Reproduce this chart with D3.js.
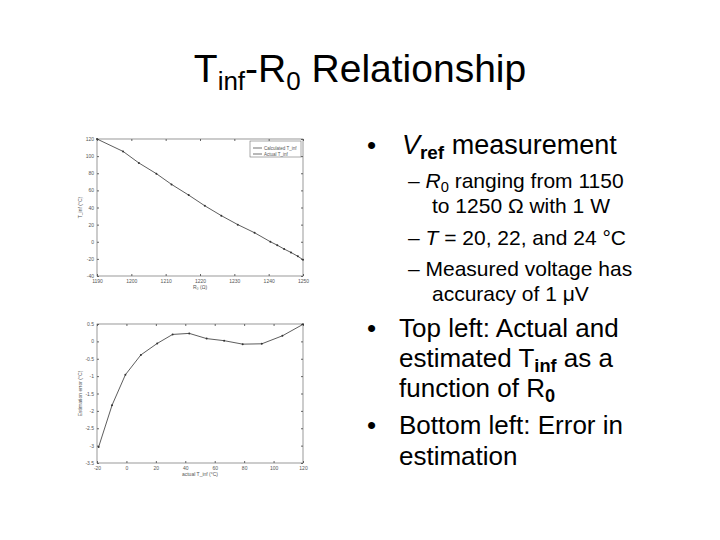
<!DOCTYPE html><html><head><meta charset="utf-8"><script src="https://cdn.jsdelivr.net/npm/d3@7"></script>
<style>body{margin:0;background:#fff}svg text{font-family:"Liberation Sans",Arial,sans-serif}</style></head><body><svg id="s" width="720" height="540"></svg>
<script>
const topR=[1190,1197.6,1202.2,1207.3,1211.7,1216.7,1221.4,1226.2,1231,1235.9,1240.5,1242.5,1244.5,1246.5,1248.5,1250];
const topT=[120,105.5,92,79.5,67,54.5,42,30.5,20,10.5,0,-4,-8.5,-12.5,-17,-21];
const topXTicks=[1190,1200,1210,1220,1230,1240,1250];
const topYTicks=[-40,-20,0,20,40,60,80,100,120];
const errT=[-18.9,-9.8,-0.7,9.8,20.9,31.4,42.7,54.5,66.4,79,92,106,120];
const errE=[-3.04,-1.84,-0.96,-0.39,-0.06,0.2,0.23,0.08,0.02,-0.08,-0.07,0.16,0.49];
const errXTicks=[-20,0,20,40,60,80,100,120];
const errYTicks=[0.5,0,-0.5,-1,-1.5,-2,-2.5,-3,-3.5];
const svg=d3.select("#s");
function panel(x0,x1,y0,y1,xd,yd,xt,yt,xs,ys,xl,yl){
  const x=d3.scaleLinear().domain(xd).range([x0,x1]),y=d3.scaleLinear().domain(yd).range([y1,y0]);
  const g=svg.append("g");
  const fx=d=>String(d),fy=d=>String(d);
  g.append("g").attr("transform",`translate(0,${y1})`).call(d3.axisBottom(x).tickValues(xt).tickSize(-2).tickPadding(3).tickFormat(fx)).call(a=>a.select(".domain").remove());
  g.append("g").attr("transform",`translate(${x0},0)`).call(d3.axisLeft(y).tickValues(yt).tickSize(-2).tickPadding(3).tickFormat(fy)).call(a=>a.select(".domain").remove());
  g.append("g").attr("transform",`translate(0,${y0})`).call(d3.axisTop(x).tickValues(xt).tickSize(-2).tickFormat("")).call(a=>a.select(".domain").remove());
  g.append("g").attr("transform",`translate(${x1},0)`).call(d3.axisRight(y).tickValues(yt).tickSize(-2).tickFormat("")).call(a=>a.select(".domain").remove());
  g.selectAll("g").attr("font-size",null).attr("font-family",null);
  g.selectAll("text").attr("fill","#555").attr("font-size",5);g.selectAll("line").attr("stroke","#666");
  g.append("rect").attr("x",x0).attr("y",y0).attr("width",x1-x0).attr("height",y1-y0).attr("fill","none").attr("stroke","#555").attr("stroke-width",0.6);
  const line=d3.line().x((d,i)=>x(xs[i])).y(d=>y(d));
  g.append("path").attr("d",line(ys)).attr("fill","none").attr("stroke","#333").attr("stroke-width",0.8);
  g.selectAll("circle").data(ys).join("circle").attr("cx",(d,i)=>x(xs[i])).attr("cy",d=>y(d)).attr("r",1).attr("fill","#333");
  g.append("text").attr("x",(x0+x1)/2).attr("y",y1+13).attr("text-anchor","middle").attr("fill","#555").attr("font-size",5).text(xl);
  g.append("text").attr("transform",`translate(${x0-15},${(y0+y1)/2}) rotate(-90)`).attr("text-anchor","middle").attr("fill","#555").attr("font-size",5).text(yl);
}
panel(97,303,139,276,[1190,1250],[-40,120],topXTicks,topYTicks,topR,topT,"R₀ (Ω)","T_inf (°C)");
const lg=svg.append("g");
lg.append("rect").attr("x",250).attr("y",141).attr("width",51).attr("height",16).attr("fill","#fff").attr("stroke","#555").attr("stroke-width",0.5);
[["Calculated T_inf",148],["Actual T_inf",154]].forEach(([t,yy])=>{lg.append("line").attr("x1",253).attr("x2",262).attr("y1",yy).attr("y2",yy).attr("stroke","#333").attr("stroke-width",0.7);
lg.append("text").attr("x",264).attr("y",yy+1.5).attr("font-size",4.5).attr("fill","#555").text(t);});
panel(97,303,324,463,[-20,120],[-3.5,0.5],errXTicks,errYTicks,errT,errE,"actual T_inf (°C)","Estimation error (°C)");
const t=svg.append("text").attr("x",360).attr("y",82).attr("text-anchor","middle").attr("font-size",39);
t.append("tspan").text("T");t.append("tspan").attr("font-size",26).attr("dy",8).text("inf");t.append("tspan").attr("dy",-8).text("-R");
t.append("tspan").attr("font-size",26).attr("dy",8).text("0");t.append("tspan").attr("dy",-8).text(" Relationship");
function txt(x,y,size,parts){const e=svg.append("text").attr("x",x).attr("y",y).attr("font-size",size);
 parts.forEach(p=>{const s=e.append("tspan").text(p.t);if(p.i)s.attr("font-style","italic");if(p.b)s.attr("font-weight","bold");if(p.sub){s.attr("font-size",size*0.7).attr("dy",size*0.2);}if(p.up)s.attr("dy",-size*0.2);});}
txt(367,154,26,[{t:"•"}]);txt(402,154,27,[{t:"V",i:1},{t:"ref",b:1,sub:1},{t:" measurement",up:1}]);
txt(408,188,21,[{t:"– "},{t:"R",i:1},{t:"0",sub:1},{t:" ranging from 1150",up:1}]);
txt(432,213,21,[{t:"to 1250 Ω with 1 W"}]);
txt(408,245,21,[{t:"– "},{t:"T",i:1},{t:" = 20, 22, and 24 °C"}]);
txt(408,276,21,[{t:"– Measured voltage has"}]);
txt(432,301,21,[{t:"accuracy of 1 μV"}]);
txt(367,337,26,[{t:"•"}]);txt(399,337,26,[{t:"Top left: Actual and"}]);
txt(399,367,26,[{t:"estimated T"},{t:"inf",b:1,sub:1},{t:" as a",up:1}]);
txt(399,397,26,[{t:"function of R"},{t:"0",b:1,sub:1}]);
txt(367,434,26,[{t:"•"}]);txt(399,434,26,[{t:"Bottom left: Error in"}]);
txt(399,465,26,[{t:"estimation"}]);
</script></body></html>
